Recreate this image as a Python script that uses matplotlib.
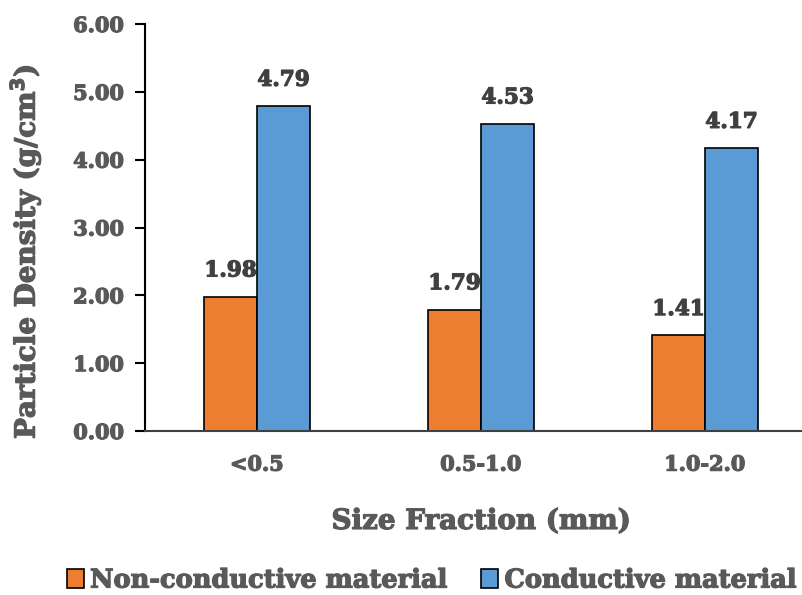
import numpy as np
import matplotlib.pyplot as plt
import matplotlib.patheffects as pe

# datos
categorias = ["<0.5", "0.5-1.0", "1.0-2.0"]
no_conductivo = [1.98, 1.79, 1.41]
conductivo = [4.79, 4.53, 4.17]
series = ["Non-conductive material", "Conductive material"]

gris = "#595959"
plt.rcParams['font.family'] = ['DejaVu Serif']
plt.rcParams['font.weight'] = 'bold'

# trazo extra para engrosar la letra
def grueso(c):
    return [pe.withStroke(linewidth=0.9, foreground=c)]

fig = plt.figure(figsize=(8.03, 5.95), dpi=100)
ax = fig.add_axes([145/803, 164/595, 672/803, 407/595])

x = np.arange(len(categorias))
w = 0.237
b1 = ax.bar(x - w/2, no_conductivo, w, color="#ED7D31", edgecolor="black", linewidth=1.2, label=series[0])
b2 = ax.bar(x + w/2, conductivo, w, color="#5B9BD5", edgecolor="black", linewidth=1.2, label=series[1])

for barras in (b1, b2):
    for r in barras:
        ax.annotate(f"{r.get_height():.2f}", (r.get_x() + r.get_width()/2, r.get_height()),
                    xytext=(0, 11), textcoords="offset points", ha="center", va="bottom",
                    fontsize=15.5, color="#404040", fontweight="bold",
                    path_effects=grueso("#404040"))

ax.set_xlim(-0.5, 2.5)
ax.set_ylim(0, 6)
ax.set_yticks(np.arange(0, 7, 1))
ax.set_yticklabels([f"{v:.2f}" for v in np.arange(0, 7, 1)])
ax.set_xticks(x)
ax.set_xticklabels(categorias)
ax.tick_params(axis="y", length=7, width=1.5, colors="black", labelcolor=gris, labelsize=15, pad=8)
ax.tick_params(axis="x", length=0, labelcolor=gris, labelsize=15, pad=17)
for t in ax.get_xticklabels() + ax.get_yticklabels():
    t.set_path_effects(grueso(gris))

for s in ["top", "right"]:
    ax.spines[s].set_visible(False)
ax.spines["left"].set_linewidth(1.5)
ax.spines["bottom"].set_linewidth(1.5)
ax.spines["bottom"].set_color("#404040")

ax.set_ylabel("Particle Density (g/cm$^\\mathbf{3}$)", fontsize=20, color=gris, fontweight="bold",
              path_effects=grueso(gris))
ax.yaxis.set_label_coords(-0.152, 0.44)
ax.set_xlabel("Size Fraction (mm)", fontsize=20, color=gris, fontweight="bold",
              labelpad=24, path_effects=grueso(gris))

leg = fig.legend(loc="center", bbox_to_anchor=(0.538, 15/595), ncol=2, frameon=False,
                 fontsize=18.5, handlelength=0.65, handleheight=0.75, handletextpad=0.25,
                 columnspacing=1.3, labelcolor=gris)
for t in leg.get_texts():
    t.set_path_effects(grueso(gris))

fig.savefig("out.png", dpi=100)
